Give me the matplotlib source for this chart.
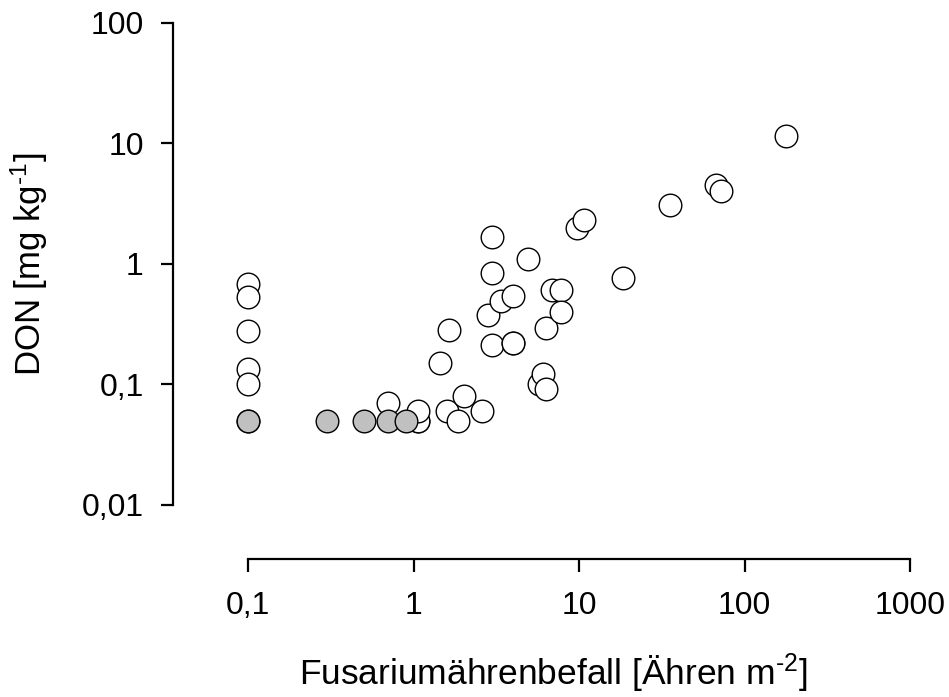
import matplotlib
matplotlib.use('Agg')
import matplotlib.pyplot as plt
from matplotlib.ticker import FixedLocator, FixedFormatter, NullLocator

plt.rcParams['font.family'] = ['Liberation Sans', 'DejaVu Sans']
plt.rcParams['mathtext.fontset'] = 'custom'
plt.rcParams['mathtext.rm'] = 'Liberation Sans'
plt.rcParams['mathtext.it'] = 'Liberation Sans'

# open circles: Fusarium ears per m2 vs DON content
ears_open = [0.1, 0.1, 0.1, 0.1, 0.1, 0.1,
             0.7, 1.07, 1.07, 1.07, 1.6, 1.85, 2.03, 2.6,
             1.45, 1.64, 2.83, 3.0, 3.0, 3.0, 3.37, 3.99, 3.99, 3.99,
             4.93, 5.72, 6.07, 6.3, 6.3, 6.88, 7.83, 7.83,
             9.77, 10.7, 18.5, 35.5, 67.2, 72.3, 179]
don_open = [0.68, 0.53, 0.278, 0.133, 0.101, 0.05,
            0.07, 0.05, 0.05, 0.06, 0.06, 0.05, 0.08, 0.06,
            0.151, 0.284, 0.376, 0.211, 0.84, 1.67, 0.494, 0.545, 0.222, 0.222,
            1.1, 0.1, 0.121, 0.091, 0.293, 0.607, 0.607, 0.396,
            2.0, 2.3, 0.76, 3.1, 4.55, 4.0, 11.4]

# grey filled circles: below detection limit
ears_grey = [0.1, 0.3, 0.5, 0.7, 0.9]
don_grey = [0.05, 0.05, 0.05, 0.05, 0.05]

xticks = [0.1, 1, 10, 100, 1000]
xticklabels = ['0,1', '1', '10', '100', '1000']
yticks = [0.01, 0.1, 1, 10, 100]
yticklabels = ['0,01', '0,1', '1', '10', '100']

fig = plt.figure(figsize=(9.49, 6.97), dpi=100)
W, H = 949, 697
ax = fig.add_axes([248 / W, 1 - 505 / H, 662 / W, 482.3 / H])

ax.scatter(ears_open, don_open, s=265, facecolors='white', edgecolors='black',
           linewidths=1.0, clip_on=False, zorder=3)
ax.scatter(ears_grey, don_grey, s=265, facecolors='#c0c0c0', edgecolors='black',
           linewidths=1.0, clip_on=False, zorder=4)

ax.set_xscale('log')
ax.set_yscale('log')
ax.set_xlim(0.1, 1000)
ax.set_ylim(0.01, 100)

ax.xaxis.set_major_locator(FixedLocator(xticks))
ax.xaxis.set_major_formatter(FixedFormatter(xticklabels))
ax.yaxis.set_major_locator(FixedLocator(yticks))
ax.yaxis.set_major_formatter(FixedFormatter(yticklabels))
ax.xaxis.set_minor_locator(NullLocator())
ax.yaxis.set_minor_locator(NullLocator())

for side in ['top', 'right']:
    ax.spines[side].set_visible(False)
ax.spines['left'].set_position(('outward', 75 * 0.72))
ax.spines['bottom'].set_position(('outward', 54 * 0.72))
ax.spines['left'].set_linewidth(1.6)
ax.spines['bottom'].set_linewidth(1.6)

ax.tick_params(axis='both', direction='out', length=9, width=1.6,
               labelsize=23, colors='black')
ax.tick_params(axis='y', pad=12)
ax.tick_params(axis='x', pad=14)

ax.set_xlabel('Fusariumährenbefall [Ähren m$^{\\text{-2}}$]', fontsize=25.5)
ax.set_ylabel('DON [mg kg$^{\\text{-1}}$]', fontsize=25)
ax.xaxis.set_label_coords(0.461, -0.348)
ax.xaxis.label.set_va('center')
ax.yaxis.set_label_coords(-0.331, 0.5)
ax.yaxis.label.set_va('center')

fig.savefig('out.png', dpi=100)
